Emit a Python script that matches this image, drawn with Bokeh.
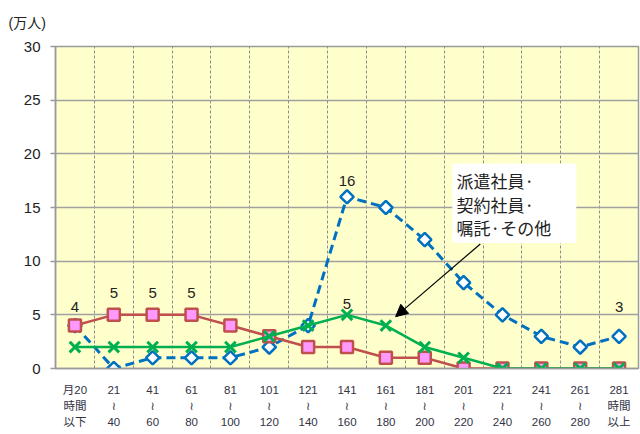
from bokeh.plotting import figure
from bokeh.models import (Range1d, FixedTicker, ColumnDataSource, BoxAnnotation,
                          Label, Arrow, NormalHead, Title)
from bokeh.embed import file_html
from bokeh.resources import INLINE
from bokeh.core.properties import value

# ---- data ----
categories = ["月20\n時間\n以下", "21\n≀\n40", "41\n≀\n60", "61\n≀\n80", "81\n≀\n100",
              "101\n≀\n120", "121\n≀\n140", "141\n≀\n160", "161\n≀\n180", "181\n≀\n200",
              "201\n≀\n220", "221\n≀\n240", "241\n≀\n260", "261\n≀\n280", "281\n時間\n以上"]
red_series = [4, 5, 5, 5, 4, 3, 2, 2, 1, 1, 0, 0, 0, 0, 0]
blue_series = [4, 0, 1, 1, 1, 2, 4, 16, 15, 12, 8, 5, 3, 2, 3]
green_series = [2, 2, 2, 2, 2, 3, 4, 5, 4, 2, 1, 0, 0, 0, 0]
y_ticks = [0, 5, 10, 15, 20, 25, 30]
annotation_text = "派遣社員·\n契約社員·\n嘱託·その他"
unit_text = "(万人)"

xs = list(range(len(categories)))

FONT = "'Liberation Sans', 'DejaVu Sans', 'Noto Sans CJK JP', sans-serif"
JFONT = "'Noto Sans CJK JP', sans-serif"

p = figure(width=640, height=432, output_backend="svg", toolbar_location=None,
           x_range=Range1d(-0.5, len(categories) - 0.5), y_range=Range1d(0, 30),
           min_border_left=55, min_border_right=2, min_border_top=45, min_border_bottom=64)
p.background_fill_color = "#FFFFCC"
p.border_fill_color = "white"
p.outline_line_color = "#9a9a9a"
p.outline_line_width = 1.5

p.add_layout(Title(text=unit_text, align="left", offset=-47, text_font=FONT,
                   text_font_size="14px", text_font_style="normal",
                   text_color="#222222", standoff=28, vertical_align="top"), "above")

# axes
p.yaxis.ticker = FixedTicker(ticks=y_ticks)
p.yaxis.axis_line_color = "#9a9a9a"
p.yaxis.axis_line_width = 1.5
p.yaxis.major_tick_line_color = "#9a9a9a"
p.yaxis.major_tick_line_width = 1.5
p.yaxis.major_tick_out = 5
p.yaxis.major_tick_in = 0
p.yaxis.minor_tick_line_color = None
p.yaxis.major_label_text_font = FONT
p.yaxis.major_label_text_font_size = "15px"
p.yaxis.major_label_text_color = "#222222"
p.yaxis.major_label_standoff = 10

p.xaxis.ticker = FixedTicker(ticks=xs)
p.xaxis.major_label_overrides = {i: c for i, c in zip(xs, categories)}
p.xaxis.axis_line_color = "#9a9a9a"
p.xaxis.axis_line_width = 1.5
p.xaxis.major_tick_line_color = None
p.xaxis.minor_tick_line_color = None
p.xaxis.major_label_text_font = FONT
p.xaxis.major_label_text_font_size = "11.5px"
p.xaxis.major_label_text_color = "#333344"
p.xaxis.major_label_text_line_height = 1.35
p.xaxis.major_label_standoff = 9

# grids
p.ygrid.ticker = FixedTicker(ticks=y_ticks)
p.ygrid.grid_line_color = "#a0a0a0"
p.ygrid.grid_line_width = 1.5
p.xgrid.ticker = FixedTicker(ticks=[x + 0.5 for x in xs[:-1]])
p.xgrid.grid_line_color = "#8c8c8c"
p.xgrid.grid_line_width = 1
p.xgrid.grid_line_dash = "3 2"

# series: blue (dashed, diamonds), red (squares), green (x)
p.line(xs, blue_series, line_color="#0070C0", line_width=3, line_dash="9 5")
p.scatter(xs, blue_series, marker="square", angle=0.785398, size=9.5,
          fill_color="white", line_color="#0070C0", line_width=2.5)

p.line(xs, red_series, line_color="#C0504D", line_width=2.5)
p.scatter(xs, red_series, marker="square", size=12,
          fill_color="#FF99FF", line_color="#C0504D", line_width=2.5)

p.line(xs, green_series, line_color="#00B050", line_width=2.5)
p.scatter(xs, green_series, marker="x", size=15, line_color="#00B050", line_width=3)

# data labels
lbl_idx = [0, 1, 2, 3, 7, 7, 14]
lbl_series = [red_series, red_series, red_series, red_series, blue_series, green_series, blue_series]
lbl_off = [-19, -22, -22, -22, -16, -11, -29]
src = ColumnDataSource(dict(
    x=[xs[i] for i in lbl_idx],
    y=[s[i] for s, i in zip(lbl_series, lbl_idx)],
    t=[str(s[i]) for s, i in zip(lbl_series, lbl_idx)],
    off=lbl_off,
))
p.text(x="x", y="y", text="t", source=src, y_offset="off", text_align="center",
       text_baseline="middle", text_font=value(FONT), text_font_size="15px",
       text_color="#222222")

# annotation box + arrow
p.add_layout(BoxAnnotation(left=9.71, right=12.9, top=19.1, bottom=11.7,
                           fill_color="white", fill_alpha=1.0, line_color=None))
p.add_layout(Label(x=9.82, y=18.7, text=annotation_text, text_baseline="top",
                   text_font=JFONT, text_font_size="17px", text_color="#222222",
                   text_line_height=0.95))
p.add_layout(Arrow(end=NormalHead(size=12, fill_color="black", line_color="black"),
                   x_start=10.43, y_start=11.6, x_end=8.25, y_end=4.83,
                   line_color="black", line_width=1.2))

open("out.html", "w").write(file_html(p, INLINE))
